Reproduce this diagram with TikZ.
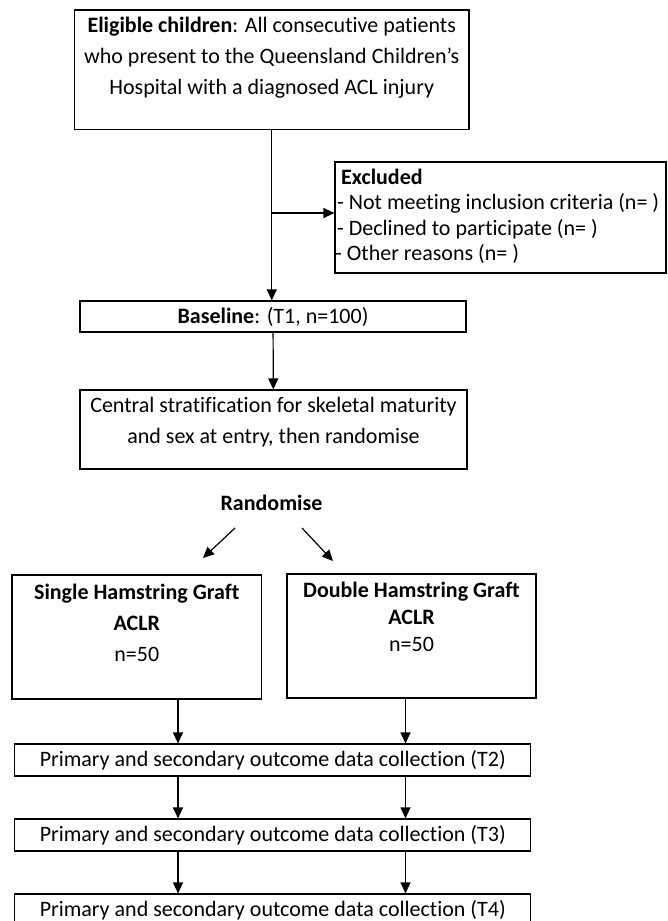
\documentclass[tikz,border=0pt]{standalone}
\usepackage{fontspec}
\setmainfont{Carlito}[Ligatures=NoCommon]
\usetikzlibrary{arrows.meta, positioning}

\tikzset{
  boxnode/.style={draw, line width=1.2pt, inner sep=0pt, font=\fontsize{22}{31}\selectfont},
  txt/.style={align=center, inner sep=0pt, font=\fontsize{22}{#1}\selectfont},
  txt/.default=31,
  flow/.style={-{Triangle[width=10pt,length=11pt]}, line width=1.2pt},
}

\begin{document}
\begin{tikzpicture}[x=1pt, y=-1pt]
  \useasboundingbox (0,0) rectangle (667,921);

  % top part
  \node[boxnode, minimum width=394.5pt, minimum height=119.3pt] (elig) at (271.75,69.65) {};
  \node[txt] (eligtxt) at (271.75,58) {\textbf{Eligible children}: All consecutive patients\\who present to the Queensland Children’s\\Hospital with a diagnosed ACL injury};
  \node[boxnode, minimum width=331pt, minimum height=111pt] (excl) at (500.5,217.5) {};
  \node[txt=25.5, align=left, anchor=west] (excltxt) at (337,216.5) {\hspace*{4pt}\textbf{Excluded}\\- Not meeting inclusion criteria (n= )\\- Declined to participate (n= )\\\hspace*{-2pt}- Other reasons (n= )};
  \node[boxnode, minimum width=386pt, minimum height=31pt] (base) at (273,316.5) {\textbf{Baseline}: (T1, n=100)};
  \node[boxnode, minimum width=387pt, minimum height=79pt] (strat) at (273.5,429.5) {};
  \node[txt] (strattxt) at (273.5,422) {Central stratification for skeletal maturity\\and sex at entry, then randomise};

  \coordinate (split) at (272,213);
  \draw[flow] (elig.south) -- (elig.south |- base.north);
  \draw[flow] (split) -- (split -| excl.west);
  \draw[flow] (base) -- (strat);

  % randomisation
  \node[txt, font=\fontsize{22}{31}\selectfont\bfseries] (rand) at (271.5,503) {Randomise};
  \node[boxnode, minimum width=249.6pt, minimum height=124pt] (single) at (136.8,637) {};
  \node[txt] (singletxt) at (136.8,622.5) {\textbf{Single Hamstring Graft}\\\textbf{ACLR}\\n=50};
  \node[boxnode, minimum width=249pt, minimum height=124pt] (double) at (411.5,636) {};
  \node[txt=26.7] (doubletxt) at (411.5,617) {\textbf{Double Hamstring Graft}\\\textbf{ACLR}\\n=50};

  \coordinate (randL) at (235,528);
  \coordinate (randR) at (302,528);
  \coordinate (intoL) at (203,558);
  \coordinate (intoR) at (333,561);
  \draw[flow] (randL) -- (intoL);
  \draw[flow] (randR) -- (intoR);

  % follow-up
  \foreach \t/\y in {2/760,3/835,4/910}
    \node[boxnode, minimum width=516pt, minimum height=32pt] (t\t) at (272.75,\y) {Primary and secondary outcome data collection (T\t)};

  \coordinate (colL) at (178,0);
  \coordinate (colR) at (405.5,0);
  \foreach \a/\b in {single/t2, t2/t3, t3/t4}
    \draw[flow] (\a.south -| colL) -- (\b.north -| colL);
  \foreach \a/\b in {double/t2, t2/t3, t3/t4}
    \draw[flow] (\a.south -| colR) -- (\b.north -| colR);
\end{tikzpicture}
\end{document}
